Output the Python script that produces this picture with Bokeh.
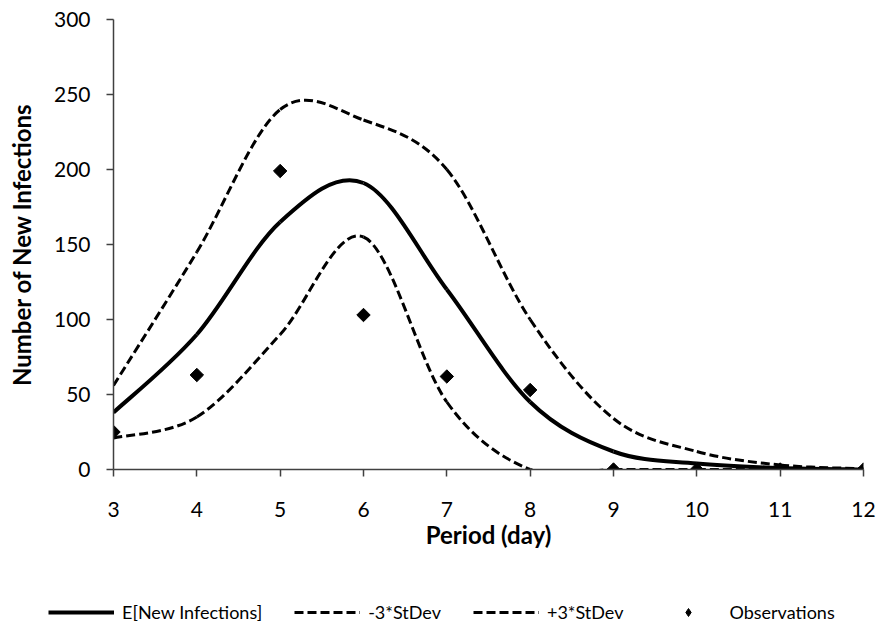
import numpy as np
from bokeh.plotting import figure
from bokeh.layouts import column
from bokeh.models import Legend, LegendItem, ColumnDataSource, FixedTicker
from bokeh.embed import file_html
from bokeh.resources import INLINE

# ---- data ----
days = [3, 4, 5, 6, 7, 8, 9, 10, 11, 12]
expected = [38, 90, 165, 191, 120, 45, 12, 4, 1, 0]
lower = [21, 35, 90, 155, 45, 0, 0, 0, 0, 0]
upper = [56, 145, 240, 233, 200, 100, 34, 12, 3, 0.5]
observations = [25, 63, 199, 103, 62, 53, 0, 0, 0, 0]

labels = ["E[New Infections]", "-3*StDev", "+3*StDev", "Observations"]

FONT = "Lato"


def smooth_source(xs, ys):
    """Bezier control points for a smoothed line (Catmull-Rom style)."""
    x = np.asarray(xs, dtype=float)
    y = np.asarray(ys, dtype=float)
    n = len(x)
    xp = np.concatenate([[x[0]], x, [x[-1]]])
    yp = np.concatenate([[y[0]], y, [y[-1]]])
    x0, y0 = x[:-1], y[:-1]
    x1, y1 = x[1:], y[1:]
    cx0 = x0 + (xp[2:n + 1] - xp[0:n - 1]) / 6.0
    cy0 = y0 + (yp[2:n + 1] - yp[0:n - 1]) / 6.0
    cx1 = x1 - (xp[3:n + 2] - xp[1:n]) / 6.0
    cy1 = y1 - (yp[3:n + 2] - yp[1:n]) / 6.0
    return ColumnDataSource(dict(x0=x0, y0=y0, x1=x1, y1=y1,
                                 cx0=cx0, cy0=cy0, cx1=cx1, cy1=cy1))


BEZ = dict(x0="x0", y0="y0", x1="x1", y1="y1",
           cx0="cx0", cy0="cy0", cx1="cx1", cy1="cy1")
SOLID = dict(line_color="black", line_width=4)
DASHED = dict(line_color="black", line_width=3, line_dash="9 4")
DIAMOND = dict(marker="square", angle=np.pi / 4, size=9.5,
               fill_color="black", line_color="black")
DIAMOND_KEY = dict(marker="diamond", size=17,
                   fill_color="black", line_color="black")

src_exp = smooth_source(days, expected)
src_low = smooth_source(days, lower)
src_up = smooth_source(days, upper)
src_obs = ColumnDataSource(dict(x=days, y=observations))

# ---------------- main chart ----------------
p = figure(width=876, height=580, x_range=(3, 12), y_range=(0, 300),
           output_backend="svg", toolbar_location=None,
           min_border_left=113, min_border_right=13, min_border_top=19,
           min_border_bottom=111)
p.outline_line_color = None
p.xgrid.visible = False
p.ygrid.visible = False
p.background_fill_color = "white"
p.border_fill_color = "white"

axis_color = "#404040"
for ax in (p.xaxis[0], p.yaxis[0]):
    ax.axis_line_color = axis_color
    ax.axis_line_width = 1.5
    ax.major_tick_line_color = axis_color
    ax.major_tick_line_width = 1.5
    ax.major_tick_out = 7
    ax.major_tick_in = 0
    ax.minor_tick_line_color = None
    ax.major_label_text_font = FONT
    ax.major_label_text_font_size = "21px"
    ax.major_label_text_color = "black"
    ax.axis_label_text_font = FONT
    ax.axis_label_text_font_size = "24px"
    ax.axis_label_text_font_style = "bold"
    ax.axis_label_text_color = "black"

p.xaxis.ticker = FixedTicker(ticks=days)
p.yaxis.ticker = FixedTicker(ticks=[0, 50, 100, 150, 200, 250, 300])
p.xaxis.axis_label = "Period (day)"
p.yaxis.axis_label = "Number of New Infections"
p.xaxis.major_label_standoff = 25
p.xaxis.axis_label_standoff = 0
p.yaxis.major_label_standoff = 16
p.yaxis.axis_label_standoff = 15

p.bezier(source=src_exp, **BEZ, **SOLID)
p.bezier(source=src_low, **BEZ, **DASHED)
p.bezier(source=src_up, **BEZ, **DASHED)
p.scatter(x="x", y="y", source=src_obs, **DIAMOND)

# ---------------- legend strip ----------------
lg = figure(width=876, height=54, x_range=(3, 12), y_range=(0, 300),
            output_backend="svg", toolbar_location=None,
            min_border=0, min_border_left=0, min_border_right=0,
            min_border_top=0, min_border_bottom=0)
lg.frame_align = False
lg.axis.visible = False
lg.xgrid.visible = False
lg.ygrid.visible = False
lg.outline_line_color = None

# legend keys: same styles, renderers hidden in the strip
l_exp = lg.bezier(source=src_exp, visible=False, **BEZ, **SOLID)
l_low = lg.bezier(source=src_low, visible=False, **BEZ, **DASHED)
l_up = lg.bezier(source=src_up, visible=False, **BEZ, **DASHED)
l_obs = lg.scatter(x="x", y="y", source=src_obs, visible=False, **DIAMOND_KEY)

legend = Legend(items=[LegendItem(label=labels[0], renderers=[l_exp]),
                       LegendItem(label=labels[1], renderers=[l_low]),
                       LegendItem(label=labels[2], renderers=[l_up]),
                       LegendItem(label=labels[3], renderers=[l_obs])],
                orientation="horizontal", location=(48, 11),
                glyph_width=66, glyph_height=20, label_standoff=8,
                spacing=32, padding=0, margin=0,
                border_line_color=None, background_fill_alpha=0,
                inactive_fill_alpha=0, click_policy="none",
                label_text_font=FONT, label_text_font_size="18px",
                label_text_color="black")
lg.add_layout(legend, "center")

layout = column(p, lg, spacing=0)
open("out.html", "w").write(file_html(layout, INLINE))
